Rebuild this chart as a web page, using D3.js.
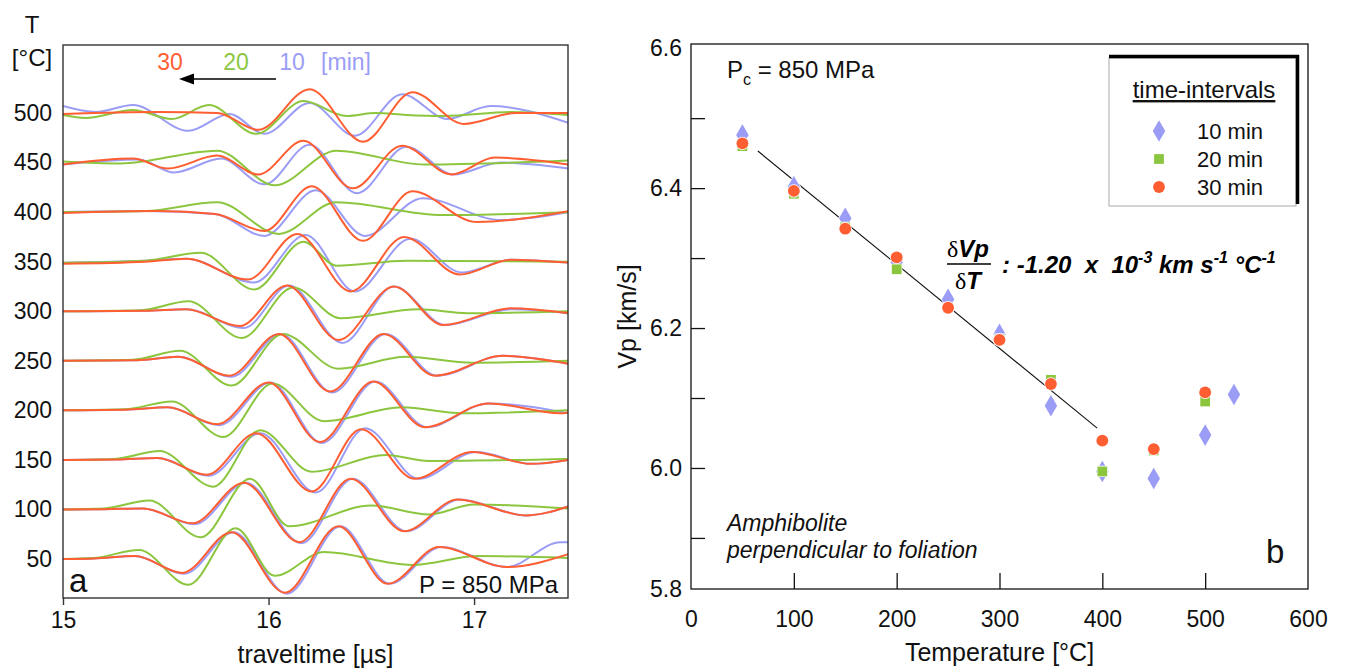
<!DOCTYPE html>
<html>
<head>
<meta charset="utf-8">
<script src="https://cdnjs.cloudflare.com/ajax/libs/d3/7.8.5/d3.min.js"></script>
<style>
  body { margin: 0; background: #fff; }
  svg { font-family: "Liberation Sans", Arial, sans-serif; }
</style>
</head>
<body>
<div id="chart"></div>
<script>
const FONT = '"Liberation Sans", Arial, sans-serif';

// ---- panel a: waveforms, [traveltime µs, amplitude] per temperature ----
const temps = [500, 450, 400, 350, 300, 250, 200, 150, 100, 50];
const timeTicks = [15, 16, 17];

const wave10 = {
  500: [[15.00,7],[15.16,1],[15.34,8],[15.61,-18],[15.81,-1],[15.98,-21],[16.20,10],[16.42,-23],[16.65,19],[16.87,-6],[17.08,7],[17.46,-10]],
  450: [[15.00,-2],[15.37,3],[15.54,-10],[15.77,4],[15.98,-22],[16.20,18],[16.43,-31],[16.67,16],[16.90,-12],[17.13,0],[17.46,-6]],
  400: [[15.00,0],[15.40,1],[15.74,-2],[15.98,-24],[16.23,22],[16.47,-24],[16.75,14],[17.13,-8],[17.46,0]],
  350: [[15.00,-1],[15.40,1],[15.60,3],[15.93,-21],[16.18,27],[16.42,-30],[16.69,23],[16.94,-11],[17.18,2],[17.46,-1]],
  300: [[15.00,0],[15.40,0.5],[15.60,2],[15.88,-17],[16.10,26],[16.36,-32],[16.61,25],[16.86,-14],[17.18,2],[17.46,-2]],
  250: [[15.00,0],[15.36,0.5],[15.56,4],[15.82,-16],[16.06,27],[16.31,-32],[16.57,27],[16.82,-15],[17.14,5],[17.46,-3]],
  200: [[15.00,0],[15.30,0.5],[15.51,3],[15.76,-15],[16.01,28],[16.26,-33],[16.52,29],[16.77,-17],[17.07,7],[17.46,-3]],
  150: [[15.00,0],[15.26,0.5],[15.46,2],[15.71,-16],[15.96,27],[16.23,-33],[16.47,32],[16.73,-19],[17.01,8],[17.28,-4],[17.46,0]],
  100: [[15.00,0],[15.20,0.3],[15.39,1],[15.64,-15],[15.89,27],[16.16,-34],[16.41,31],[16.67,-22],[16.93,10],[17.25,-6],[17.46,3]],
  50:  [[15.00,0],[15.15,0.5],[15.35,3],[15.59,-15],[15.83,27],[16.09,-35],[16.35,33],[16.59,-25],[16.84,12],[17.16,-8],[17.42,17],[17.46,17]]
};

const wave20 = {
  500: [[15.00,-2],[15.11,-5],[15.34,3],[15.53,-6],[15.71,8],[15.94,-21],[16.17,12],[16.38,-3],[16.52,0],[16.67,-2],[16.85,-3],[17.18,1],[17.46,-2]],
  450: [[15.00,1],[15.28,-1],[15.75,12],[16.03,-23],[16.33,12],[16.76,-2],[17.46,2]],
  400: [[15.00,0],[15.40,1],[15.75,10],[16.05,-22],[16.33,10],[16.85,-3],[17.46,0]],
  350: [[15.00,-1],[15.40,1],[15.67,9],[15.93,-28],[16.17,20],[16.33,-4],[16.67,1],[17.46,0]],
  300: [[15.00,0],[15.38,1],[15.61,10],[15.87,-27],[16.12,24],[16.35,-7],[16.73,2],[16.97,-2],[17.46,0]],
  250: [[15.00,0],[15.34,1],[15.57,10],[15.82,-25],[16.07,27],[16.34,-8],[16.67,4],[16.99,-2],[17.46,0]],
  200: [[15.00,0],[15.30,1],[15.53,9],[15.78,-27],[16.02,27],[16.27,-11],[16.65,3],[16.94,-3],[17.46,0]],
  150: [[15.00,0],[15.25,1],[15.47,9],[15.73,-27],[15.96,30],[16.21,-12],[16.57,5],[16.78,-1],[17.46,1]],
  100: [[15.00,0],[15.20,1],[15.42,9],[15.67,-28],[15.91,31],[16.10,-17],[16.50,4],[16.78,-5],[17.00,5],[17.46,1]],
  50:  [[15.00,0],[15.15,1],[15.37,9],[15.61,-26],[15.84,31],[16.03,-17],[16.27,7],[16.70,-6],[17.02,3],[17.46,1]]
};

const wave30 = {
  500: [[15.00,-1],[15.46,1],[15.75,0],[15.95,-17],[16.20,24],[16.46,-29],[16.70,21],[16.95,-11],[17.20,0],[17.46,0]],
  450: [[15.00,-2],[15.34,4],[15.51,-6],[15.75,7],[15.95,-12],[16.17,22],[16.41,-26],[16.65,17],[16.89,-12],[17.10,5],[17.46,-2]],
  400: [[15.00,-1],[15.46,1],[15.74,-2],[15.98,-19],[16.21,26],[16.46,-29],[16.70,21],[17.01,-10],[17.46,1]],
  350: [[15.00,-2],[15.40,0],[15.60,3],[15.90,-18],[16.14,28],[16.40,-30],[16.66,25],[16.93,-13],[17.18,2],[17.46,-1]],
  300: [[15.00,0],[15.40,0.5],[15.60,2],[15.86,-15],[16.09,26],[16.34,-29],[16.61,25],[16.85,-14],[17.18,3],[17.46,-2]],
  250: [[15.00,0],[15.36,0.5],[15.56,4],[15.81,-15],[16.05,27],[16.30,-31],[16.56,27],[16.81,-15],[17.14,5],[17.46,-3]],
  200: [[15.00,0],[15.30,0.5],[15.51,3],[15.75,-14],[16.00,28],[16.25,-32],[16.51,29],[16.76,-17],[17.07,7],[17.42,-3],[17.46,-2]],
  150: [[15.00,0],[15.26,0.5],[15.46,2],[15.70,-15],[15.94,27],[16.21,-32],[16.45,31],[16.71,-19],[16.99,8],[17.28,-4],[17.46,0]],
  100: [[15.00,0],[15.20,0.3],[15.39,1],[15.63,-14],[15.88,27],[16.15,-33],[16.40,31],[16.66,-22],[16.92,10],[17.25,-6],[17.46,3]],
  50:  [[15.00,0],[15.15,0.5],[15.35,3],[15.58,-14],[15.82,27],[16.08,-34],[16.34,33],[16.58,-25],[16.83,12],[17.16,-8],[17.46,5]]
};

// ---- panel b: Vp vs temperature ----
const tempC  = [50, 100, 150, 200, 250, 300, 350, 400, 450, 500];
const temp10 = [50, 100, 150, 200, 250, 300, 350, 400, 450, 500, 528];
const vp10 = [6.476, 6.402, 6.357, 6.294, 6.241, 6.191, 6.089, 5.995, 5.985, 6.047, 6.105];
const vp20 = [6.460, 6.392, 6.344, 6.284, 6.229, 6.184, 6.126, 5.995, 6.025, 6.095];
const vp30 = [6.464, 6.396, 6.342, 6.301, 6.229, 6.183, 6.120, 6.039, 6.027, 6.108];
const fitT  = [65, 395];
const fitVp = [6.453, 6.057];
const vpTicks = [5.9, 6.0, 6.1, 6.2, 6.3, 6.4, 6.5];
const vpLabels = [5.827, 6.0, 6.2, 6.4, 6.6];
const tempTicks = [100, 200, 300, 400, 500];
const tempLabels = [0, 100, 200, 300, 400, 500, 600];
const legendItems = ["10 min", "20 min", "30 min"];

const BLUE = "#9b9cf6", GREEN = "#8cc63f", RED = "#ff5d32";

const svg = d3.select("#chart").append("svg")
  .attr("width", 1347)
  .attr("height", 671);

// ================= panel a =================
const L = { x0: 63, x1: 568, y0: 45, y1: 598 };
const xL = d3.scaleLinear().domain([15, 17.457]).range([L.x0, L.x1]);
const yL = d3.scaleLinear().domain([50, 500]).range([559, 113]);

svg.append("clipPath").attr("id", "clipL")
  .append("rect")
  .attr("x", L.x0).attr("y", L.y0)
  .attr("width", L.x1 - L.x0).attr("height", L.y1 - L.y0);

const waveLine = d3.line().curve(d3.curveMonotoneX);

const series = [
  { data: wave10, color: BLUE },
  { data: wave20, color: GREEN },
  { data: wave30, color: RED }
];

const traces = svg.append("g").attr("clip-path", "url(#clipL)");
series.forEach(s => {
  temps.forEach(T => {
    traces.append("path")
      .attr("d", waveLine(s.data[T].map(([t, a]) => [xL(t), yL(T + a)])))
      .attr("fill", "none")
      .attr("stroke", s.color)
      .attr("stroke-width", 2);
  });
});

svg.append("rect")
  .attr("x", L.x0).attr("y", L.y0)
  .attr("width", L.x1 - L.x0).attr("height", L.y1 - L.y0)
  .attr("fill", "none").attr("stroke", "#333").attr("stroke-width", 1.4);

// temperature labels
svg.append("g")
  .attr("transform", `translate(${L.x0 - 8},0)`)
  .call(d3.axisLeft(yL).tickValues(temps).tickSize(0).tickPadding(3))
  .call(g => g.select(".domain").remove())
  .attr("font-size", 23).attr("font-family", FONT)
  .selectAll("text").attr("fill", "#111");

// traveltime axis
svg.append("g")
  .attr("transform", `translate(0,${L.y1})`)
  .call(d3.axisBottom(xL).tickValues(timeTicks).tickSize(7).tickPadding(7).tickFormat(d3.format("d")))
  .call(g => g.select(".domain").remove())
  .attr("font-size", 23).attr("font-family", FONT)
  .call(g => g.selectAll("line").attr("stroke", "#333").attr("stroke-width", 1.4))
  .selectAll("text").attr("fill", "#111");

svg.append("text")
  .attr("x", (L.x0 + L.x1) / 2).attr("y", 663)
  .attr("text-anchor", "middle").attr("font-size", 25).attr("fill", "#111")
  .text("traveltime [µs]");

svg.append("text").attr("x", 32).attr("y", 33)
  .attr("text-anchor", "middle").attr("font-size", 24).attr("fill", "#111").text("T");
svg.append("text").attr("x", 32).attr("y", 66)
  .attr("text-anchor", "middle").attr("font-size", 24).attr("fill", "#111").text("[°C]");

// interval annotation
const ann = [["30", RED, 170], ["20", GREEN, 236], ["10", BLUE, 292], ["[min]", BLUE, 346]];
ann.forEach(([txt, col, x]) => {
  svg.append("text").attr("x", x).attr("y", 70)
    .attr("text-anchor", "middle").attr("font-size", 23).attr("fill", col).text(txt);
});
svg.append("line").attr("x1", 276).attr("x2", 190).attr("y1", 79).attr("y2", 79)
  .attr("stroke", "#000").attr("stroke-width", 1.6);
svg.append("path").attr("d", "M179,79L194,73.5L194,84.5Z").attr("fill", "#000");

svg.append("text").attr("x", 69).attr("y", 592)
  .attr("font-size", 33).attr("fill", "#111").text("a");
svg.append("text").attr("x", 558).attr("y", 593)
  .attr("text-anchor", "end").attr("font-size", 24).attr("fill", "#111").text("P = 850 MPa");

// ================= panel b =================
const R = { x0: 691, x1: 1308, y0: 44, y1: 589 };
const xR = d3.scaleLinear().domain([0, 600]).range([R.x0, R.x1]);
const yR = d3.scaleLinear().domain([5.827, 6.606]).range([R.y1, R.y0]);

svg.append("rect")
  .attr("x", R.x0).attr("y", R.y0)
  .attr("width", R.x1 - R.x0).attr("height", R.y1 - R.y0)
  .attr("fill", "none").attr("stroke", "#111").attr("stroke-width", 1.3);

// inward ticks
svg.append("g")
  .attr("transform", `translate(${R.x0},0)`)
  .call(d3.axisLeft(yR).tickValues(vpTicks).tickSize(-14).tickFormat(""))
  .call(g => g.select(".domain").remove())
  .selectAll("line").attr("stroke", "#111").attr("stroke-width", 1.3);

svg.append("g")
  .attr("transform", `translate(0,${R.y1})`)
  .call(d3.axisBottom(xR).tickValues(tempTicks).tickSize(-16).tickFormat(""))
  .call(g => g.select(".domain").remove())
  .selectAll("line").attr("stroke", "#111").attr("stroke-width", 1.3);

// labels
svg.append("g")
  .attr("transform", `translate(${R.x0},0)`)
  .call(d3.axisLeft(yR).tickValues(vpLabels).tickSize(0).tickPadding(9).tickFormat(d3.format(".1f")))
  .call(g => g.select(".domain").remove())
  .attr("font-size", 23).attr("font-family", FONT)
  .selectAll("text").attr("fill", "#111");

svg.append("g")
  .attr("transform", `translate(0,${R.y1})`)
  .call(d3.axisBottom(xR).tickValues(tempLabels).tickSize(0).tickPadding(22))
  .call(g => g.select(".domain").remove())
  .attr("font-size", 23).attr("font-family", FONT)
  .selectAll("text").attr("fill", "#111");

svg.append("text")
  .attr("x", (R.x0 + R.x1) / 2).attr("y", 661)
  .attr("text-anchor", "middle").attr("font-size", 25).attr("fill", "#111")
  .text("Temperature [°C]");

svg.append("text")
  .attr("transform", `translate(636,${(R.y0 + R.y1) / 2}) rotate(-90)`)
  .attr("text-anchor", "middle").attr("font-size", 25).attr("fill", "#111")
  .text("Vp [km/s]");

// regression line
svg.append("line")
  .attr("x1", xR(fitT[0])).attr("y1", yR(fitVp[0]))
  .attr("x2", xR(fitT[1])).attr("y2", yR(fitVp[1]))
  .attr("stroke", "#111").attr("stroke-width", 1.1);

const pts = svg.append("g");
const diamond = d3.symbol().type(d3.symbolDiamond).size(135);
const square = d3.symbol().type(d3.symbolSquare).size(95);
const circle = d3.symbol().type(d3.symbolCircle).size(110);

function drawPoints(tArr, vArr, sym, col) {
  pts.append("g").selectAll("path")
    .data(tArr.map((t, i) => [t, vArr[i]]))
    .join("path")
    .attr("transform", d => `translate(${xR(d[0])},${yR(d[1])})`)
    .attr("d", sym).attr("fill", col)
    .attr("stroke", "#fff").attr("stroke-width", 1.5)
    .attr("paint-order", "stroke");
}
drawPoints(temp10, vp10, diamond, BLUE);
drawPoints(tempC, vp20, square, GREEN);
drawPoints(tempC, vp30, circle, RED);

// Pc label
const pc = svg.append("text").attr("x", 727).attr("y", 78).attr("font-size", 24).attr("fill", "#111");
pc.append("tspan").text("P");
pc.append("tspan").attr("dy", 7).attr("font-size", 16).text("c");
pc.append("tspan").attr("dy", -7).text(" = 850 MPa");

// slope annotation
const num = svg.append("text").attr("x", 968).attr("y", 257).attr("text-anchor", "middle").attr("font-size", 24);
num.append("tspan").attr("font-family", '"Liberation Serif", serif').text("δ");
num.append("tspan").attr("font-weight", "bold").attr("font-style", "italic").text("Vp");
svg.append("line").attr("x1", 947).attr("x2", 991).attr("y1", 264).attr("y2", 264)
  .attr("stroke", "#000").attr("stroke-width", 1.3);
const den = svg.append("text").attr("x", 968).attr("y", 289).attr("text-anchor", "middle").attr("font-size", 24);
den.append("tspan").attr("font-family", '"Liberation Serif", serif').text("δ");
den.append("tspan").attr("font-weight", "bold").attr("font-style", "italic").text("T");

const slope = svg.append("text").attr("x", 1002).attr("y", 273)
  .attr("font-size", 24).attr("font-weight", "bold").attr("font-style", "italic")
  .style("white-space", "pre");
slope.append("tspan").text(": -1.20  x  10");
slope.append("tspan").attr("dy", -10).attr("font-size", 16).text("-3");
slope.append("tspan").attr("dy", 10).text(" km s");
slope.append("tspan").attr("dy", -10).attr("font-size", 16).text("-1");
slope.append("tspan").attr("dy", 10).text(" °C");
slope.append("tspan").attr("dy", -10).attr("font-size", 16).text("-1");

// legend
const lg = { x0: 1109, y0: 58, x1: 1296, y1: 206 };
svg.append("rect").attr("x", lg.x0).attr("y", lg.y0)
  .attr("width", lg.x1 - lg.x0).attr("height", lg.y1 - lg.y0)
  .attr("fill", "#fff").attr("stroke", "#aaa").attr("stroke-width", 1);
svg.append("path")
  .attr("d", `M${lg.x0},${lg.y0 - 1.5}H${lg.x1 + 1.5}V${lg.y1 - 2}`)
  .attr("fill", "none").attr("stroke", "#000").attr("stroke-width", 3.5);

svg.append("text").attr("x", 1204).attr("y", 98)
  .attr("text-anchor", "middle").attr("font-size", 24).attr("fill", "#111")
  .attr("text-decoration", "underline").text("time-intervals");

const legSyms = [[diamond, BLUE], [square, GREEN], [circle, RED]];
legendItems.forEach((txt, i) => {
  const y = 131 + i * 28;
  svg.append("path").attr("transform", `translate(1159,${y})`)
    .attr("d", legSyms[i][0]).attr("fill", legSyms[i][1]);
  svg.append("text").attr("x", 1197).attr("y", y + 8)
    .attr("font-size", 22).attr("fill", "#111").text(txt);
});

// sample annotation
svg.append("text").attr("x", 727).attr("y", 531)
  .attr("font-size", 23).attr("font-style", "italic").attr("fill", "#111").text("Amphibolite");
svg.append("text").attr("x", 727).attr("y", 558)
  .attr("font-size", 23).attr("font-style", "italic").attr("fill", "#111").text("perpendicular to foliation");
svg.append("text").attr("x", 1266).attr("y", 563)
  .attr("font-size", 33).attr("fill", "#111").text("b");
</script>
</body>
</html>
